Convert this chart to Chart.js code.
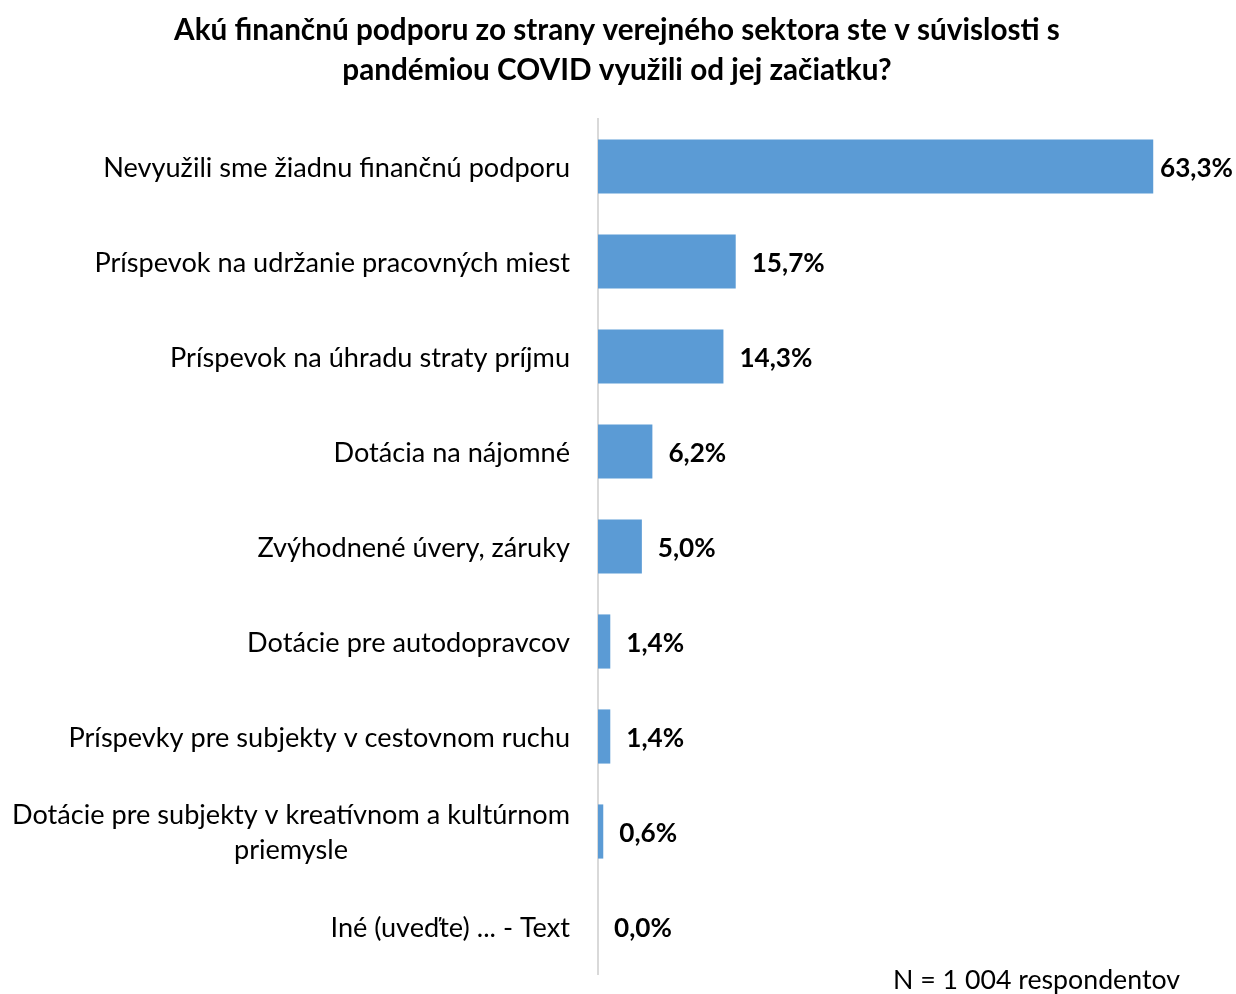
<!DOCTYPE html>
<html><head><meta charset="utf-8">
<script src="https://cdn.jsdelivr.net/npm/chart.js@4/dist/chart.umd.min.js"></script>
<style>html,body{margin:0;padding:0;background:#fff}canvas{display:block}</style>
</head><body>
<canvas id="c" width="1236" height="994"></canvas>
<script>
const categories = [
  ["Nevyužili sme žiadnu finančnú podporu"],
  ["Príspevok na udržanie pracovných miest"],
  ["Príspevok na úhradu straty príjmu"],
  ["Dotácia na nájomné"],
  ["Zvýhodnené úvery, záruky"],
  ["Dotácie pre autodopravcov"],
  ["Príspevky pre subjekty v cestovnom ruchu"],
  ["Dotácie pre subjekty v kreatívnom a kultúrnom", "priemysle"],
  ["Iné (uveďte) ... - Text"]
];
const values = [63.3, 15.7, 14.3, 6.2, 5.0, 1.4, 1.4, 0.6, 0.0];
const titleLines = ["Akú finančnú podporu zo strany verejného sektora ste v súvislosti s", "pandémiou COVID využili od jej začiatku?"];
const footnote = "N = 1 004 respondentov";

const FONT = "Lato, 'Open Sans', sans-serif";

function fitSize(ctx, weight, text, target) {
  ctx.font = weight + " 24px " + FONT;
  return 24 * target / ctx.measureText(text).width;
}

const labelsPlugin = {
  id: 'customLabels',
  afterDraw(chart) {
    const ctx = chart.ctx;
    const y = chart.scales.y, x = chart.scales.x;
    ctx.save();
    ctx.fillStyle = "#000";
    // title
    const ts = fitSize(ctx, "bold", titleLines[0], 886);
    ctx.font = "bold " + ts.toFixed(2) + "px " + FONT;
    ctx.textAlign = "center";
    ctx.textBaseline = "middle";
    ctx.fillText(titleLines[0], 617, 30);
    ctx.fillText(titleLines[1], 617, 70);
    // category labels
    const ls = fitSize(ctx, "normal", categories[0][0], 467);
    ctx.font = ls.toFixed(2) + "px " + FONT;
    ctx.textAlign = "center";
    const rightEdge = 570, lh = 35;
    categories.forEach((lines, i) => {
      const cy = y.getPixelForValue(i) + 1.5;
      const w = Math.max(...lines.map(l => ctx.measureText(l).width));
      const cx = rightEdge - w / 2;
      const start = cy - (lines.length - 1) * lh / 2;
      lines.forEach((l, k) => ctx.fillText(l, cx, start + k * lh));
    });
    // value labels
    const vs = fitSize(ctx, "bold", "63,3%", 73);
    ctx.font = "bold " + vs.toFixed(2) + "px " + FONT;
    ctx.textAlign = "left";
    values.forEach((v, i) => {
      const cy = y.getPixelForValue(i);
      const t = v.toFixed(1).replace('.', ',') + '%';
      const w = ctx.measureText(t).width;
      let px = x.getPixelForValue(v) + 16;
      px = Math.min(px, chart.width - w - 3);
      ctx.fillText(t, px, cy + 2.5);
    });
    // footnote
    const fs = fitSize(ctx, "normal", footnote, 287);
    ctx.font = fs.toFixed(2) + "px " + FONT;
    ctx.textAlign = "right";
    ctx.textBaseline = "alphabetic";
    ctx.fillText(footnote, 1180, 989);
    ctx.restore();
  }
};

new Chart(document.getElementById('c'), {
  type: 'bar',
  data: {
    labels: categories.map(c => c.join(' ')),
    datasets: [{
      data: values,
      backgroundColor: '#5b9bd5',
      borderWidth: 0,
      barPercentage: 0.57,
      categoryPercentage: 1.0
    }]
  },
  options: {
    indexAxis: 'y',
    responsive: false,
    animation: false,
    devicePixelRatio: 1,
    layout: { padding: { left: 598, right: 24, top: 119, bottom: 20 } },
    plugins: {
      legend: { display: false },
      tooltip: { enabled: false },
      title: { display: false }
    },
    scales: {
      x: { display: false, min: 0, max: 70 },
      y: {
        ticks: { display: false },
        grid: { display: false, drawTicks: false },
        border: { display: true, color: '#d9d9d9', width: 2 }
      }
    }
  },
  plugins: [labelsPlugin]
});
</script>
</body></html>
